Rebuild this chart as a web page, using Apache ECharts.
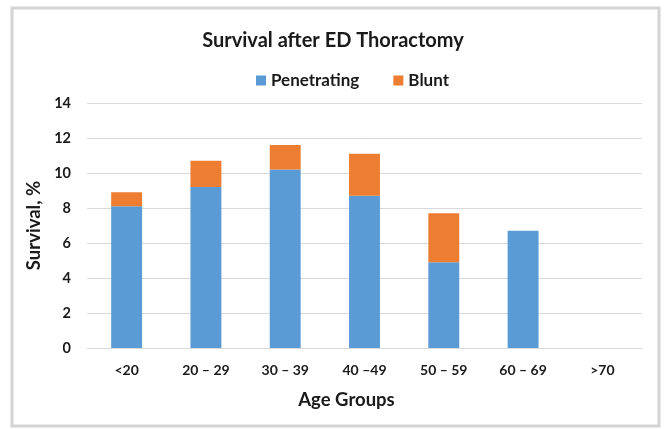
<!DOCTYPE html>
<html>
<head>
<meta charset="utf-8">
<script src="https://cdn.jsdelivr.net/npm/echarts@6/dist/echarts.min.js"></script>
<style>
  html, body { margin: 0; padding: 0; background: #fff; }
  #chart { width: 666px; height: 429px; }
</style>
</head>
<body>
<div id="chart"></div>
<script>
let ageGroups = ['<20', '20 – 29', '30 – 39', '40 –49', '50 – 59', '60 – 69', '>70'];
let penetrating = [8.1, 9.2, 10.2, 8.7, 4.9, 6.7, 0];
let blunt = [0.8, 1.5, 1.4, 2.4, 2.8, 0, 0];

let font = 'Lato, "Open Sans", sans-serif';

option = {
    backgroundColor: '#fff',
    textStyle: { fontFamily: font },
    title: {
        text: 'Survival after ED Thoractomy',
        left: 'center',
        top: 26,
        textStyle: { fontFamily: font, fontSize: 20, fontWeight: 'bold', color: '#1a1a1a' }
    },
    legend: {
        top: 67,
        left: 251,
        itemWidth: 10,
        itemHeight: 10,
        itemGap: 34,
        icon: 'rect',
        textStyle: { fontFamily: font, fontSize: 17, fontWeight: 'bold', color: '#1a1a1a' },
        data: ['Penetrating', 'Blunt']
    },
    grid: {
        left: 87,
        right: 24,
        top: 103,
        bottom: 81
    },
    graphic: [{
        type: 'rect',
        shape: { x: 12, y: 8, width: 647, height: 418 },
        style: { fill: 'none', stroke: '#d4d4d4', lineWidth: 3 },
        silent: true
    }],
    xAxis: {
        type: 'category',
        data: ageGroups,
        name: 'Age Groups',
        nameLocation: 'middle',
        nameGap: 43,
        nameTextStyle: { fontFamily: font, fontSize: 18.5, fontWeight: 'bold', color: '#1a1a1a', padding: [0, 36, 0, 0] },
        axisLine: { lineStyle: { color: '#d9d9d9' } },
        axisTick: { show: false },
        axisLabel: { fontFamily: font, fontSize: 14, fontWeight: 'bold', color: '#1a1a1a', margin: 15 }
    },
    yAxis: {
        type: 'value',
        min: 0,
        max: 14,
        interval: 2,
        name: 'Survival, %',
        nameLocation: 'middle',
        nameGap: 42,
        nameTextStyle: { fontFamily: font, fontSize: 18.5, fontWeight: 'bold', color: '#1a1a1a' },
        axisLine: { show: false },
        axisTick: { show: false },
        axisLabel: { fontFamily: font, fontSize: 14.5, fontWeight: 'bold', color: '#1a1a1a', margin: 16 },
        splitLine: { lineStyle: { color: '#d9d9d9', width: 1 } }
    },
    series: [{
        name: 'Penetrating',
        type: 'bar',
        stack: 'total',
        barWidth: '39%',
        itemStyle: { color: '#5b9bd5' },
        data: penetrating
    }, {
        name: 'Blunt',
        type: 'bar',
        stack: 'total',
        barWidth: '39%',
        itemStyle: { color: '#ed7d31' },
        data: blunt
    }]
};

let myChart = echarts.init(document.getElementById('chart'));
myChart.setOption(option);
</script>
</body>
</html>
